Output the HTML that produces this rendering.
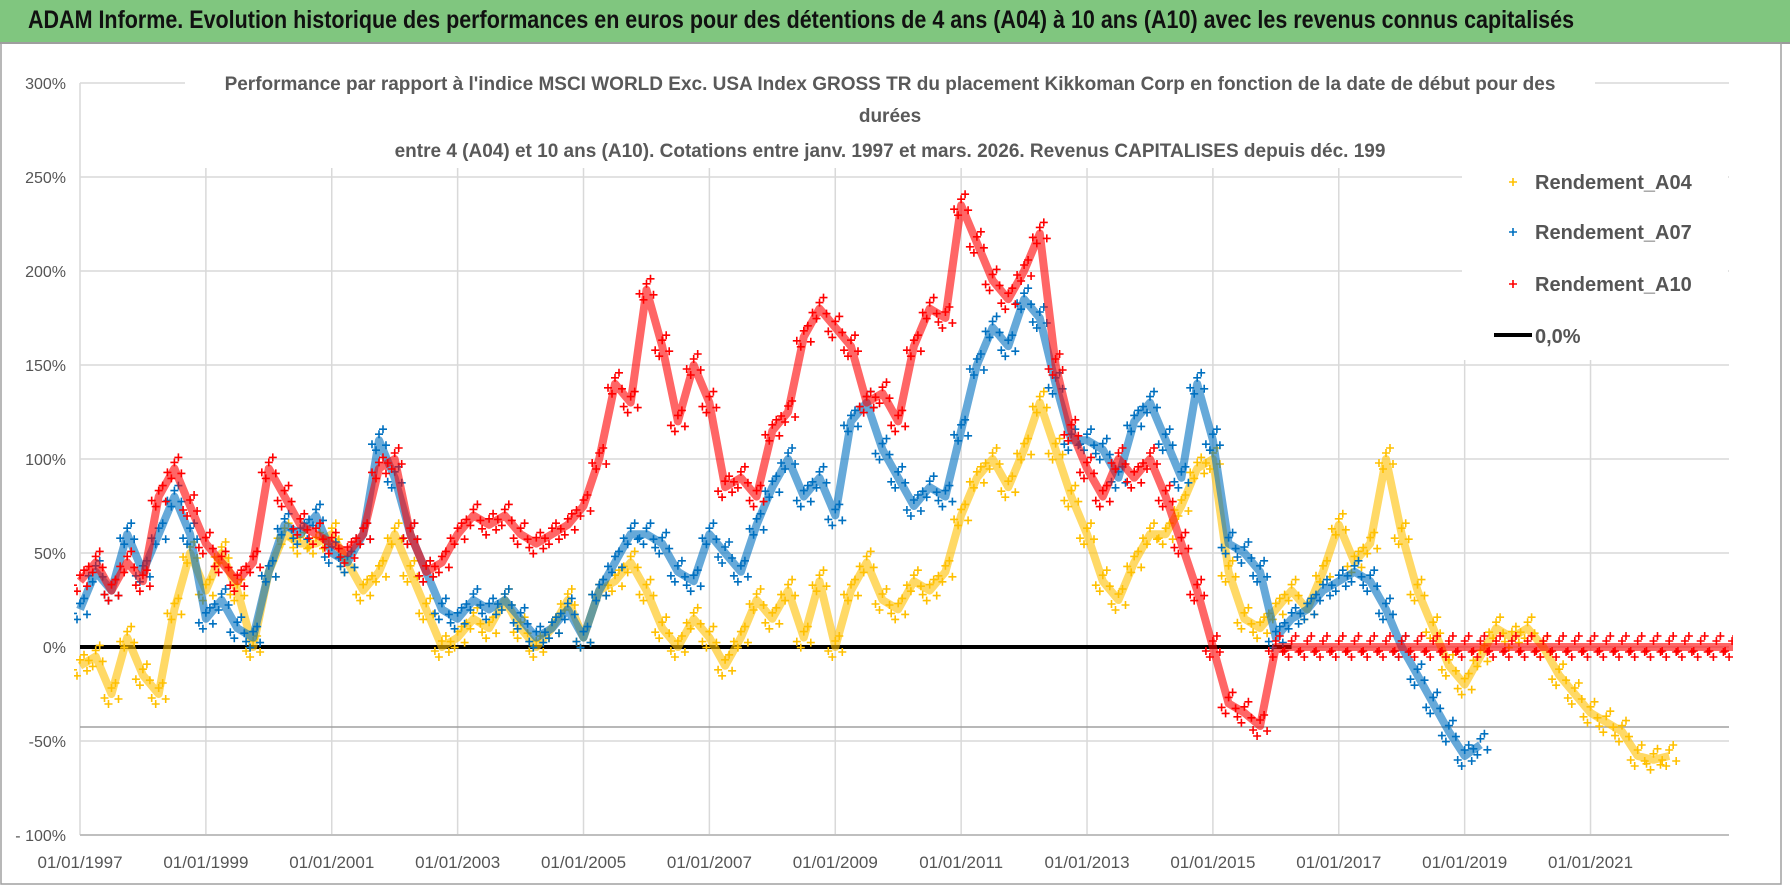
<!DOCTYPE html>
<html><head><meta charset="utf-8">
<style>
html,body{margin:0;padding:0;background:#fff;}
body{width:1790px;height:886px;overflow:hidden;position:relative;font-family:"Liberation Sans Narrow","Liberation Sans",sans-serif;}
#hdr{position:absolute;left:0;top:0;width:1790px;height:42px;background:#80c67f;border-bottom:2px solid #9a9a9a;}
#hdr span{position:absolute;left:28px;top:6px;font-size:25px;font-weight:bold;color:#111;white-space:nowrap;transform:scaleX(0.86);transform-origin:left top;}
svg{position:absolute;left:0;top:0;}
</style></head><body>
<div id="hdr"><span>ADAM Informe. Evolution historique des performances en euros pour des détentions de 4 ans (A04) à 10 ans (A10) avec les revenus connus capitalisés</span></div>
<svg id="chart" width="1790" height="886"></svg>
<script>
const startYear = 1997;
const stepYears = 0.25;
const yTicks = [300,250,200,150,100,50,0,-50,-100];
const yTickLabels = ["300%","250%","200%","150%","100%","50%","0%","-50%","- 100%"];
const xTicks = [1997,1999,2001,2003,2005,2007,2009,2011,2013,2015,2017,2019,2021];
const xTickLabels = ["01/01/1997","01/01/1999","01/01/2001","01/01/2003","01/01/2005","01/01/2007","01/01/2009","01/01/2011","01/01/2013","01/01/2015","01/01/2017","01/01/2019","01/01/2021"];
const seriesA04 = [-10,-5,-25,5,-15,-25,20,50,30,50,30,0,40,60,55,55,60,45,30,40,60,40,20,0,5,15,10,25,10,0,10,25,5,30,35,45,30,10,0,15,5,-10,5,25,15,30,5,35,0,30,45,25,20,35,30,40,70,90,100,85,105,130,105,80,60,35,25,45,60,60,75,95,100,40,15,10,20,30,20,40,65,45,55,100,60,30,10,-10,-20,-5,10,5,10,0,-15,-25,-35,-40,-45,-58,-60,-58];
const seriesA07 = [20,40,30,60,40,60,80,60,15,25,10,5,40,65,60,70,50,45,60,110,90,60,40,20,15,25,20,25,15,5,10,20,5,30,45,60,60,55,40,35,60,50,40,65,85,100,80,90,70,120,130,105,90,75,85,80,115,150,170,160,185,175,140,110,110,105,90,120,130,110,90,140,110,55,50,40,5,15,20,30,35,40,35,20,0,-15,-30,-45,-58,-52];
const seriesA10 = [35,45,30,45,35,80,95,75,55,45,35,45,95,80,65,60,55,50,60,95,100,60,40,45,60,70,65,70,60,55,60,65,75,100,140,130,190,160,120,150,130,85,90,80,115,125,165,180,170,160,130,135,120,160,180,175,235,215,195,185,200,220,150,115,95,80,100,90,100,80,55,30,0,-30,-35,-42,0,0,0,0,0,0,0,0,0,0,0,0,0,0,0,0,0,0,0,0,0,0,0,0,0,0,0,0,0,0,0,0];
const zeroLineValue = 0;

const NS="http://www.w3.org/2000/svg";
const svg=document.getElementById('chart');
const X0=80,X1=1729,Y0=835,Y300=83;
function xs(yr){return X0+(yr-1997)*(X1-X0)/26.2;}
function ys(v){return 647-v*1.88;}
function mk(t,a,p){const e=document.createElementNS(NS,t);for(const k in a)e.setAttribute(k,a[k]);(p||svg).appendChild(e);return e;}

const defs=mk('defs',{});
const cp=mk('clipPath',{id:'plotclip'},defs);
mk('rect',{x:X0-6,y:Y300-10,width:X1-X0+10,height:Y0-Y300+10},cp);

yTicks.forEach((v,i)=>{
  const l=mk('line',{x1:X0,x2:X1,y1:ys(v),y2:ys(v),stroke:'#d9d9d9','stroke-width':1.5});
  
  
  const t=mk('text',{x:66,y:ys(v)+6,'text-anchor':'end','font-size':16,fill:'#555','font-family':'Liberation Sans Narrow, Liberation Sans, sans-serif'});
  t.textContent=yTickLabels[i];
  
  
});
xTicks.forEach((yr,i)=>{
  const l=mk('line',{x1:xs(yr),x2:xs(yr),y1:Y300,y2:Y0,stroke:'#d9d9d9','stroke-width':1.5});
  
  
  const t=mk('text',{x:xs(yr),y:868,'text-anchor':'middle','font-size':17,fill:'#555','font-family':'Liberation Sans Narrow, Liberation Sans, sans-serif'});
  t.textContent=xTickLabels[i];
  
  
});
const ax=mk('line',{x1:X0,x2:X1,y1:Y0,y2:Y0,stroke:'#bfbfbf','stroke-width':2});


const gl=mk('line',{x1:X0,x2:X1,y1:727,y2:727,stroke:'#a0a0a0','stroke-width':1.5});



const tb=mk('rect',{x:185,y:66,width:1410,height:102,fill:'#fff'});


[["Performance par rapport à l'indice MSCI WORLD Exc. USA Index GROSS TR  du placement Kikkoman Corp en fonction de la date de début pour des",890,90],["durées",890,122],["entre 4 (A04) et 10 ans (A10).  Cotations entre janv. 1997 et mars. 2026.  Revenus CAPITALISES depuis déc. 199",890,157]].forEach(a=>{
  const t=mk('text',{x:a[1],y:a[2],'text-anchor':'middle','font-size':19,'font-weight':'bold',fill:'#595959','font-family':'Liberation Sans Narrow, Liberation Sans, sans-serif'});
  t.textContent=a[0];
  
  
});

const zl=mk('line',{x1:X0,x2:xs(2016.25),y1:ys(zeroLineValue),y2:ys(zeroLineValue),stroke:'#000','stroke-width':4});



function drawSeries(vals,color,name){
  const g=mk('g',{'clip-path':'url(#plotclip)'});
  
  
  let d='';
  vals.forEach((v,i)=>{const x=xs(startYear+i*stepYears),y=ys(v);d+=(i?'L':'M')+x.toFixed(1)+' '+y.toFixed(1);});
  mk('path',{d:d,fill:'none',stroke:color,'stroke-width':8,'stroke-opacity':0.6,'stroke-linejoin':'round'},g);
  let pd='';
  vals.forEach((v,i)=>{
    const x=xs(startYear+i*stepYears),y=ys(v);
    [[-7,4],[0,-6],[7,5],[-3,10],[4,-11]].forEach(o=>{pd+=`M${(x-4+o[0]).toFixed(1)} ${(y+o[1]).toFixed(1)}h8M${(x+o[0]).toFixed(1)} ${(y-4+o[1]).toFixed(1)}v8`;});
  });
  const p=mk('path',{d:pd,stroke:color,'stroke-width':1.6,fill:'none'},g);
  
  
}
drawSeries(seriesA04,'#ffc000','series-a04');
drawSeries(seriesA07,'#0070c0','series-a07');
drawSeries(seriesA10,'#ff0000','series-a10');

const lb=mk('rect',{x:1462,y:168,width:266,height:192,fill:'#fff'});


[['Rendement_A04','#ffc000',182],['Rendement_A07','#0070c0',232],['Rendement_A10','#ff0000',284]].forEach(a=>{
  const m=mk('path',{d:`M${1509} ${a[2]}h8M${1513} ${a[2]-4}v8`,stroke:a[1],'stroke-width':1.6});
  
  
  const t=mk('text',{x:1535,y:a[2]+7,'font-size':20,'font-weight':'bold',fill:'#555','font-family':'Liberation Sans Narrow, Liberation Sans, sans-serif'});
  t.textContent=a[0];
  
  
});
const ll=mk('line',{x1:1494,x2:1532,y1:335,y2:335,stroke:'#000','stroke-width':4});


const lt=mk('text',{x:1535,y:343,'font-size':20,'font-weight':'bold',fill:'#555','font-family':'Liberation Sans Narrow, Liberation Sans, sans-serif'});
lt.textContent='0,0%';


const br=mk('rect',{x:1,y:43,width:1780,height:841,fill:'none',stroke:'#a0a0a0','stroke-width':1.5});


</script>
</body></html>
